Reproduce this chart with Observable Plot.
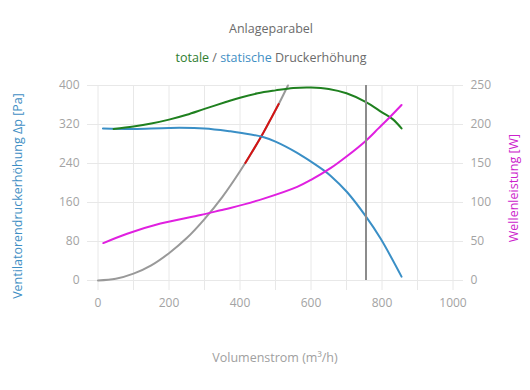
<!DOCTYPE html>
<html>
<head>
<meta charset="utf-8">
<script src="https://cdn.jsdelivr.net/npm/d3@7"></script>
<script src="https://cdn.jsdelivr.net/npm/@observablehq/plot@0.6"></script>
<style>
  body { margin: 0; background: #fff; font-family: "Open Sans", sans-serif; }
  #wrap { position: relative; width: 530px; height: 390px; overflow: hidden; }
  .t { position: absolute; left: 0; width: 542px; text-align: center; color: #6b6b6b; font-size: 12.5px; white-space: nowrap; }
  #chart { position: absolute; left: 0; top: 70px; }
  .ax { position: absolute; font-size: 12.5px; white-space: nowrap; }
</style>
</head>
<body>
<div id="wrap">
  <div class="t" style="top:20px">Anlageparabel</div>
  <div class="t" style="top:49px"><span style="color:#2f7d2f">totale</span> / <span style="color:#3f8fc4">statische</span> Druckerhöhung</div>
  <div id="chart"></div>
  <div class="ax" id="xl" style="left:0;width:550px;text-align:center;top:349px;color:#a0a0a0">Volumenstrom (m³/h)</div>
  <div class="ax" id="yl" style="color:#3f8fc4;left:17px;top:196px;transform:translate(-50%,-50%) rotate(-90deg)">Ventilatorendruckerhöhung Δp [Pa]</div>
  <div class="ax" id="yr" style="color:#cc22cc;left:513px;top:188px;transform:translate(-50%,-50%) rotate(-90deg)">Wellenleistung [W]</div>
</div>
<script>
// Axis ticks
const xGridTicks = [0,100,200,300,400,500,600,700,800,900,1000];
const xLabelTicks = [0,200,400,600,800,1000];
const leftTicks = [0,80,160,240,320,400];
const rightTicks = [0,50,100,150,200,250];

// System curve (Anlageparabel), Pa
const sysFlow = [0,50,100,150,200,250,300,350,400,450,500,535];
const sysPa   = [0,3.5,14,31,56,87,126,171,224,283,349,400];
// Highlighted part of the system curve
const hiFlow = [415,440,465,490,509];
const hiPa   = [241,271,302,336,362];

// Total pressure rise, Pa
const totFlow = [44,100,150,200,250,300,360,400,450,500,550,600,650,700,755,800,830,855];
const totPa   = [311,316,322,330,340,352,366,375,384,390,395,396,393,384,366,345,331,312];

// Static pressure rise, Pa
const statFlow = [14,100,200,300,373,400,467,500,561,600,636,655,702,754,796,855];
const statPa   = [312,311,313,312,306,303,294,285,262,244,226,215,181,132,86,8];

// Shaft power, W (right axis)
const powFlow = [15,82,176,289,345,373,467,561,600,655,700,754,790,819,855];
const powW    = [48,60,73,84,90,93,105,120,129,144,159,179,195,208,225];

// Operating point flow
const opFlow = [755];

const toRows = (xs, ys) => xs.map((x, i) => ({x, y: ys[i]}));
const ratio = 400 / 250; // right axis -> left axis units

const chart = Plot.plot({
  width: 530,
  height: 320,
  marginTop: 15,
  marginBottom: 110,
  marginLeft: 87,
  marginRight: 67,
  style: {fontFamily: "Open Sans, sans-serif", fontSize: "12px", color: "#a3a3a3", background: "transparent"},
  x: {domain: [0, 1000], inset: 10.5},
  y: {domain: [0, 400]},
  marks: [
    Plot.ruleY(leftTicks, {stroke: "#e8e8e8"}),
    Plot.ruleX(xGridTicks, {stroke: "#e8e8e8"}),
    Plot.axisX({ticks: xGridTicks, tickSize: 10, stroke: "#e8e8e8", tickFormat: () => "", label: null}),
    Plot.axisX({ticks: xLabelTicks, tickSize: 0, tickPadding: 18, label: null, fontSize: 12, tickFormat: d => String(d)}),
    Plot.axisY({ticks: leftTicks, anchor: "left", tickSize: 0, tickPadding: 8, label: null, fontSize: 12, tickFormat: d => String(d)}),
    Plot.axisY({ticks: rightTicks.map(t => t * ratio), anchor: "right", tickSize: 0, tickPadding: 7,
                tickFormat: d => String(Math.round(d / ratio)), label: null, fontSize: 12}),
    Plot.line(toRows(sysFlow, sysPa), {x: "x", y: "y", stroke: "#999999", strokeWidth: 2, curve: "catmull-rom"}),
    Plot.line(toRows(hiFlow, hiPa), {x: "x", y: "y", stroke: "#d41414", strokeWidth: 2, curve: "catmull-rom"}),
    Plot.line(toRows(statFlow, statPa), {x: "x", y: "y", stroke: "#3a8fc6", strokeWidth: 2, curve: "catmull-rom"}),
    Plot.line(toRows(totFlow, totPa), {x: "x", y: "y", stroke: "#1f801f", strokeWidth: 2, curve: "catmull-rom"}),
    Plot.line(toRows(powFlow, powW), {x: "x", y: d => d.y * ratio, stroke: "#e020e0", strokeWidth: 2, curve: "catmull-rom"}),
    Plot.ruleX(opFlow, {stroke: "#8c8c8c", strokeWidth: 2})
  ]
});
document.getElementById("chart").appendChild(chart);
</script>
</body>
</html>
